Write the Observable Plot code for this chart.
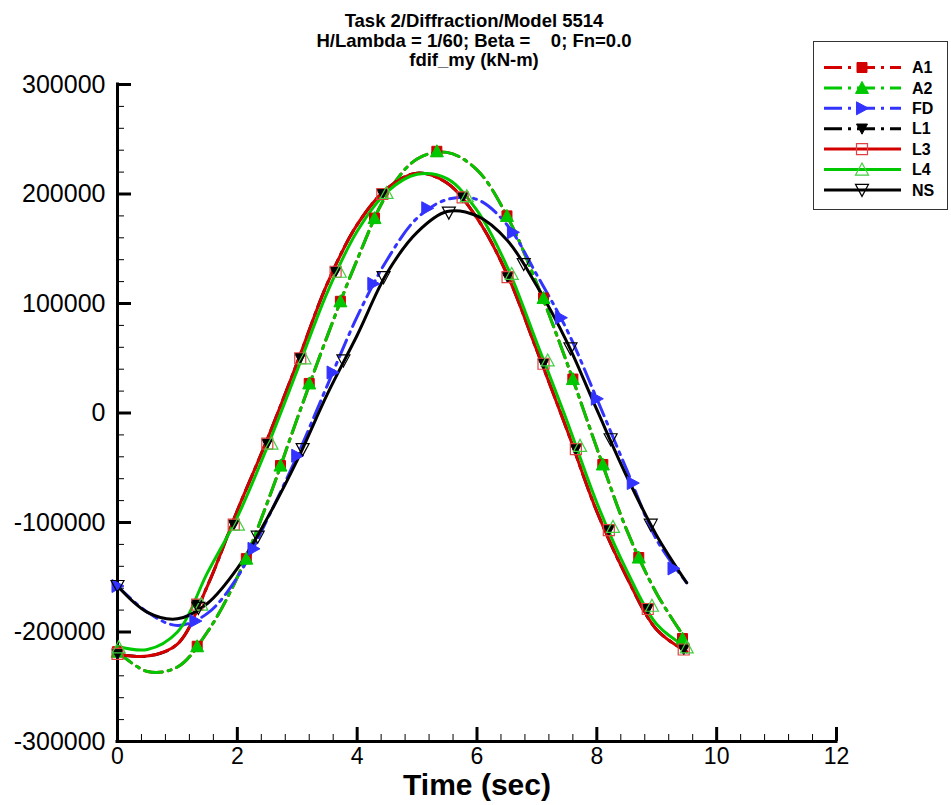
<!DOCTYPE html>
<html><head><meta charset="utf-8">
<script src="https://cdn.jsdelivr.net/npm/d3@7"></script>
<script src="https://cdn.jsdelivr.net/npm/@observablehq/plot@0.6"></script>
<style>
html,body{margin:0;padding:0;background:#fff;}
#wrap{position:relative;width:951px;height:805px;overflow:hidden;}
#legend{position:absolute;left:0;top:0;pointer-events:none;}
</style></head><body><div id="wrap"></div>
<script>
// ---- data ----
const TIME = [0,0.5,1,1.5,2,2.5,3,3.5,4,4.5,5,5.5,6,6.5,7,7.5,8,8.5,9,9.5];
const A1 = [-218000,-236000,-232000,-200000,-150000,-82000,-5000,70000,140000,200000,232000,238000,222000,180000,118000,46000,-32000,-107000,-165000,-208000];
const A2 = [-218000,-236000,-232000,-200000,-150000,-82000,-5000,70000,140000,200000,232000,238000,222000,180000,118000,46000,-32000,-107000,-165000,-208000];
const FD = [-158000,-182000,-194000,-183000,-150000,-97000,-39000,25000,88000,140000,178000,195000,195000,172000,126000,76000,13000,-52000,-116000,-155000];
const L1 = [-220000,-222000,-211000,-158000,-89000,-24000,46000,118000,172000,205000,219000,210000,178000,127000,57000,-15000,-90000,-150000,-198000,-218000];
const L3 = [-220000,-222000,-211000,-158000,-89000,-24000,46000,118000,172000,205000,219000,210000,178000,127000,57000,-15000,-90000,-150000,-198000,-218000];
const L4 = [-213000,-216000,-200000,-146000,-95000,-31000,39000,110000,166000,202000,218000,214000,185000,134000,64000,-7000,-82000,-144000,-193000,-214000];
const NS = [-158000,-182000,-188000,-174000,-142000,-96000,-43000,17000,71000,128000,165000,184000,180000,158000,116000,65000,3000,-58000,-112000,-155000];

// symbol positions (time, value)
const SYM_T_A = [0,1.33,2.15,2.72,3.2,3.72,4.29,5.33,6.5,7.11,7.6,8.1,8.7,9.43];
const SYM_V_A = [-218000,-213000,-133000,-48000,27000,102000,178000,239000,180000,105000,31000,-47000,-132000,-206000];
const SYM_T_L = [0,1.33,1.94,2.5,3.05,3.64,4.42,5.76,6.51,7.11,7.65,8.2,8.85,9.45];
const SYM_V_L = [-220000,-175000,-102000,-28000,50000,129000,200000,197000,124000,45000,-33000,-107000,-179000,-216000];
const SYM_T_L4 = [0.02,1.4,2.01,2.57,3.12,3.71,4.49,5.83,6.58,7.18,7.72,8.27,8.92,9.5];
const SYM_V_L4 = [-214000,-175000,-102000,-28000,50000,129000,201000,198000,127000,48000,-30000,-104000,-176000,-214000];
const SYM_T_FD = [0,1.3,2.27,3.0,3.59,4.27,5.17,6.6,7.4,8.0,8.6,9.28];
const SYM_V_FD = [-158000,-190000,-124000,-39000,37000,118000,187000,165000,87000,13000,-64000,-142000];
const SYM_T_NS = [0,1.35,2.34,3.09,3.77,4.44,5.53,6.78,7.56,8.23,8.9];
const SYM_V_NS = [-158000,-178000,-113000,-33000,48000,124000,183000,136000,59000,-24000,-102000];

const X_TICKS = [0,2,4,6,8,10,12];
const Y_TICKS = [-300000,-200000,-100000,0,100000,200000,300000];
const TITLE_LINES = ["Task 2/Diffraction/Model 5514", "H/Lambda = 1/60; Beta =\u00a0\u00a0\u00a0\u00a00; Fn=0.0", "fdif_my (kN-m)"];
const X_LABEL = "Time (sec)";

// ---- layout / style ----
const FONT = '"Liberation Sans", Arial, Helvetica, sans-serif';
const W = 951, H = 805, M_L = 117, M_R = 115, M_T = 84, M_B = 64;
const FW = W - M_L - M_R, FH = H - M_T - M_B;
const RED = "#d40000", GREEN = "#00c800", BLUE = "#3333ff", BLACK = "#000000";
const DASH = "18,6,3,6";

const rad = s => Math.sqrt(s / Math.PI);
const symSquare = {draw(c, s){const r = rad(s); c.moveTo(-r,-r); c.lineTo(r,-r); c.lineTo(r,r); c.lineTo(-r,r); c.closePath();}};
const symTriUp = {draw(c, s){const r = rad(s); c.moveTo(0,-r); c.lineTo(r,r*0.85); c.lineTo(-r,r*0.85); c.closePath();}};
const symTriDown = {draw(c, s){const r = rad(s); c.moveTo(0,r); c.lineTo(r,-r*0.85); c.lineTo(-r,-r*0.85); c.closePath();}};
const symTriRight = {draw(c, s){const r = rad(s); c.moveTo(r,0); c.lineTo(-r*0.85,-r); c.lineTo(-r*0.85,r); c.closePath();}};

const SERIES = [
  {name:"A1", vals:A1, st:SYM_T_A, sv:SYM_V_A, color:RED, dash:DASH, sym:symSquare, r:5, fill:RED, mstroke:RED},
  {name:"A2", vals:A2, st:SYM_T_A, sv:SYM_V_A, color:GREEN, dash:DASH, sym:symTriUp, r:6.5, fill:GREEN, mstroke:GREEN},
  {name:"FD", vals:FD, st:SYM_T_FD, sv:SYM_V_FD, color:BLUE, dash:DASH, sym:symTriRight, r:6.5, fill:BLUE, mstroke:BLUE},
  {name:"L1", vals:L1, st:SYM_T_L, sv:SYM_V_L, color:BLACK, dash:DASH, sym:symTriDown, r:5.5, fill:BLACK, mstroke:BLACK},
  {name:"L3", vals:L3, st:SYM_T_L, sv:SYM_V_L, color:RED, dash:null, sym:symSquare, r:5.5, fill:"none", mstroke:"#e04040"},
  {name:"L4", vals:L4, st:SYM_T_L4, sv:SYM_V_L4, color:GREEN, dash:null, sym:symTriUp, r:6.5, fill:"none", mstroke:"#40d040"},
  {name:"NS", vals:NS, st:SYM_T_NS, sv:SYM_V_NS, color:BLACK, dash:null, sym:symTriDown, r:6.5, fill:"none", mstroke:BLACK}
];

const minorY = d3.range(-15, 15).filter(i => i % 5 !== 0).map(i => i * 20000);
const minorX = d3.range(1, 30).filter(i => i % 5 !== 0).map(i => i * 0.4);

const marks = [
  Plot.tickY(minorY, {y: d => d, stroke: BLACK, strokeWidth: 1, insetRight: FW - 7}),
  Plot.tickX(minorX, {x: d => d, stroke: BLACK, strokeWidth: 1, insetTop: FH - 7}),
  Plot.tickY(Y_TICKS, {y: d => d, stroke: BLACK, strokeWidth: 3, insetRight: FW - 14}),
  Plot.tickX(X_TICKS, {x: d => d, stroke: BLACK, strokeWidth: 3, insetTop: FH - 14}),
  Plot.ruleX([0], {stroke: BLACK, strokeWidth: 3, strokeLinecap: "square"}),
  Plot.ruleY([-300000], {stroke: BLACK, strokeWidth: 3, strokeLinecap: "square"}),
  Plot.axisY({ticks: Y_TICKS, tickSize: 0, tickPadding: 12, tickFormat: d => String(d), fontSize: 25, label: null}),
  Plot.axisX({ticks: X_TICKS, tickSize: 0, tickPadding: 6, tickFormat: d => String(d), fontSize: 23, label: null}),
  Plot.text([X_LABEL], {text: d => d, frameAnchor: "bottom", dy: 44, lineAnchor: "middle", fontSize: 30, fontWeight: "bold"})
];
TITLE_LINES.forEach((line, i) => {
  marks.push(Plot.text([line], {text: d => d, frameAnchor: "top", dy: 21 - M_T + i * 19.5, dx: -3, lineAnchor: "middle", fontSize: 18.5, fontWeight: "bold"}));
});

for (const s of SERIES) {
  const rows = TIME.map((t, i) => ({t, v: s.vals[i]}));
  marks.push(Plot.line(rows, {x: "t", y: "v", stroke: s.color, strokeWidth: 3, strokeDasharray: s.dash || undefined, curve: "catmull-rom"}));
}
for (const s of SERIES) {
  const pts = s.st.map((t, i) => ({t, v: s.sv[i]}));
  marks.push(Plot.dot(pts, {x: "t", y: "v", symbol: s.sym, r: s.r, fill: s.fill, stroke: s.mstroke, strokeWidth: s.fill === "none" ? 1.2 : 1}));
}

const chart = Plot.plot({
  width: W, height: H,
  marginLeft: M_L, marginRight: M_R, marginTop: M_T, marginBottom: M_B,
  x: {domain: [0, 12]},
  y: {domain: [-300000, 300000]},
  style: {fontFamily: FONT, background: "white", color: "black", overflow: "visible"},
  marks
});
document.getElementById("wrap").appendChild(chart);

// ---- legend ----
const lg = d3.select("#wrap").append("svg").attr("id", "legend").attr("width", W).attr("height", H);
lg.append("rect").attr("x", 813.5).attr("y", 41.5).attr("width", 134).attr("height", 168)
  .attr("fill", "white").attr("stroke", "#333").attr("stroke-width", 1);
SERIES.forEach((s, i) => {
  const y = 67.5 + i * 20.4;
  lg.append("line").attr("x1", 824).attr("x2", 901).attr("y1", y).attr("y2", y)
    .attr("stroke", s.color).attr("stroke-width", 3).attr("stroke-dasharray", s.dash || null);
  lg.append("path").attr("d", d3.symbol(s.sym, s.r * s.r * Math.PI)())
    .attr("transform", `translate(862,${y})`)
    .attr("fill", s.fill).attr("stroke", s.mstroke).attr("stroke-width", s.fill === "none" ? 1.2 : 1);
  lg.append("text").attr("x", 912).attr("y", y).attr("dy", "0.36em")
    .attr("font-family", FONT).attr("font-size", 16).attr("font-weight", "bold").text(s.name);
});
</script></body></html>
